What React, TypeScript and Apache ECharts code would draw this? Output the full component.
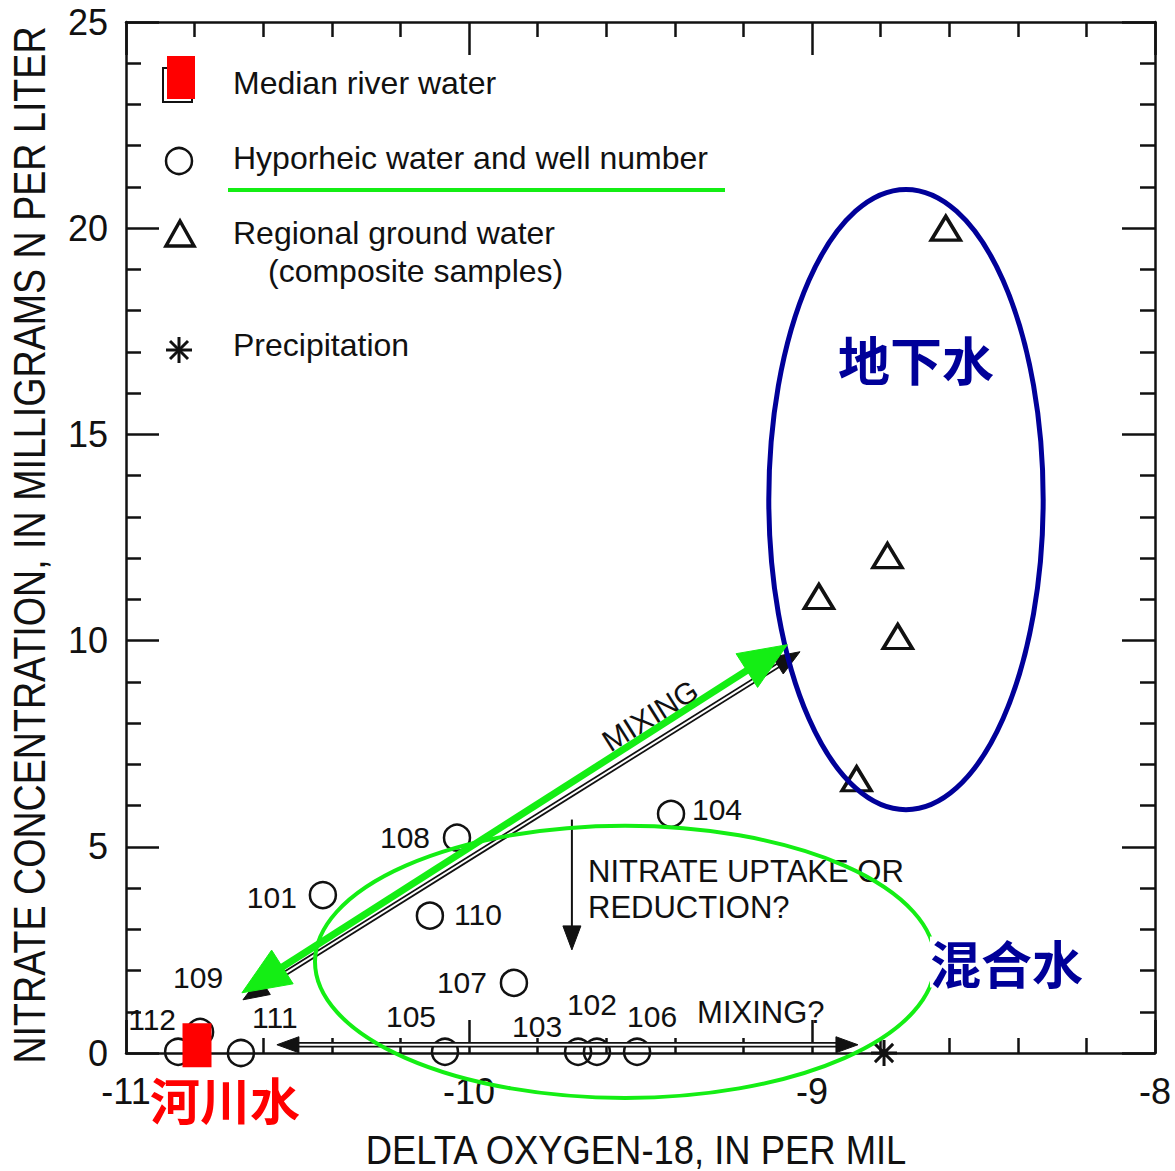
import React, { useEffect, useRef } from 'react';
import * as echarts from 'echarts';

// ---------- data ----------
const xAxisTicks = [-11, -10, -9, -8];
const yAxisTicks = [0, 5, 10, 15, 20, 25];

// Hyporheic water wells (open circles)
const wellIds = ['112', '109', '111', '101', '110', '108', '105', '107', '103', '102', '106', '104'];
const wellX = [-10.848, -10.784, -10.665, -10.426, -10.114, -10.035, -10.07, -9.869, -9.682, -9.627, -9.51, -9.411];
const wellY = [0.03, 0.51, 0.0, 3.83, 3.33, 5.22, 0.03, 1.7, 0.03, 0.03, 0.03, 5.8];

// Regional ground water (triangles)
const groundX = [-8.61, -8.78, -8.98, -8.75, -8.87];
const groundY = [20.0, 12.06, 11.07, 10.1, 6.65];

// Median river water (square)
const riverX = [-10.793];
const riverY = [0.19];

// Precipitation (asterisk)
const precipX = [-8.79];
const precipY = [0.0];

// Annotation geometry in data units
const mixingArrow = [[-10.659, 1.29], [-9.035, 9.73]];
const greenArrow = [[-10.662, 1.46], [-9.072, 9.9]];
const mixingQArrow = [[-10.56, 0.2], [-8.866, 0.2]];
const uptakeArrow = [[-9.7, 5.66], [-9.7, 2.5]];
const groundEllipse = { cx: -8.726, cy: 13.42, rx: 0.4, ry: 7.52 };
const mixEllipse = { cx: -9.545, cy: 2.21, rx: 0.904, ry: 3.3 };

// ---------- styles ----------
const FONT = '"Liberation Sans", Arial, Helvetica, sans-serif';
const CJK = '"Noto Sans CJK SC", "Noto Sans CJK JP", sans-serif';
const INK = '#111111';
const GREEN = '#14ee14';
const NAVY = '#000099';

// label offsets (pixels) for the well numbers, relative to the circle centre
const wellLabelOffsets: Record<string, number[]> = {
  '112': [-26, -32],
  '109': [-2, -54],
  '111': [34, -36],
  '101': [-51, 2],
  '110': [48, -1],
  '108': [-52, 0],
  '105': [-34, -35],
  '107': [-52, 0],
  '103': [-41, -25],
  '102': [-5, -47],
  '106': [15, -35],
  '104': [46, -4],
};

function headPolygon(tip: number[], from: number[], len: number, half: number, color: string) {
  const dx = tip[0] - from[0];
  const dy = tip[1] - from[1];
  const d = Math.hypot(dx, dy) || 1;
  const ux = dx / d;
  const uy = dy / d;
  const bx = tip[0] - ux * len;
  const by = tip[1] - uy * len;
  return {
    type: 'polygon',
    shape: {
      points: [
        [tip[0], tip[1]],
        [bx - uy * half, by + ux * half],
        [bx + uy * half, by - ux * half],
      ],
    },
    style: { fill: color, stroke: color, lineWidth: 1 },
  };
}

type ArrowOpts = {
  color: string;
  width: number;
  inner?: number;
  headLen: number;
  headHalf: number;
  startHead: boolean;
  endHead: boolean;
};

function makeArrowRender(a: number[], b: number[], o: ArrowOpts) {
  return (_params: any, api: any) => {
    const p = api.coord(a);
    const q = api.coord(b);
    const dx = q[0] - p[0];
    const dy = q[1] - p[1];
    const d = Math.hypot(dx, dy) || 1;
    const ux = dx / d;
    const uy = dy / d;
    const s = o.startHead ? [p[0] + ux * o.headLen * 0.7, p[1] + uy * o.headLen * 0.7] : p;
    const e = o.endHead ? [q[0] - ux * o.headLen * 0.7, q[1] - uy * o.headLen * 0.7] : q;
    const children: any[] = [
      {
        type: 'line',
        shape: { x1: s[0], y1: s[1], x2: e[0], y2: e[1] },
        style: { stroke: o.color, lineWidth: o.width, lineCap: 'butt' },
      },
    ];
    if (o.inner) {
      children.push({
        type: 'line',
        shape: { x1: s[0], y1: s[1], x2: e[0], y2: e[1] },
        style: { stroke: '#ffffff', lineWidth: o.inner, lineCap: 'butt' },
      });
    }
    if (o.startHead) children.push(headPolygon(p, q, o.headLen, o.headHalf, o.color));
    if (o.endHead) children.push(headPolygon(q, p, o.headLen, o.headHalf, o.color));
    return { type: 'group', children };
  };
}

function makeEllipseRender(e: { cx: number; cy: number; rx: number; ry: number }, color: string, width: number) {
  return (_params: any, api: any) => {
    const c = api.coord([e.cx, e.cy]);
    const rx = Math.abs(api.size([e.rx, 0])[0]);
    const ry = Math.abs(api.size([0, e.ry])[1]);
    const d =
      `M${c[0] - rx},${c[1]}` +
      `A${rx},${ry},0,1,0,${c[0] + rx},${c[1]}` +
      `A${rx},${ry},0,1,0,${c[0] - rx},${c[1]}Z`;
    return {
      type: 'path',
      shape: { pathData: d },
      style: { fill: 'none', stroke: color, lineWidth: width },
    };
  };
}

type TextNote = { text: string; x: number; y: number; align: string; rotate: number; size: number };
const textNotes: TextNote[] = [
  { text: 'MIXING', x: -9.472, y: 8.18, align: 'center', rotate: 0.56, size: 30 },
  { text: 'NITRATE UPTAKE OR', x: -9.653, y: 4.39, align: 'left', rotate: 0, size: 31 },
  { text: 'REDUCTION?', x: -9.653, y: 3.54, align: 'left', rotate: 0, size: 31 },
  { text: 'MIXING?', x: -9.335, y: 0.97, align: 'left', rotate: 0, size: 31 },
];

function customSeries(anchor: number[], renderItem: any, z: number) {
  return {
    type: 'custom',
    coordinateSystem: 'cartesian2d',
    xAxisIndex: 0,
    yAxisIndex: 0,
    data: [anchor],
    renderItem,
    clip: false,
    silent: true,
    z,
  };
}

function axisCommon(extra: any) {
  return {
    type: 'value',
    axisLine: { show: true, onZero: false, lineStyle: { color: INK, width: 2.5 } },
    axisTick: { show: true, inside: true, length: 33, lineStyle: { color: INK, width: 2.5 } },
    minorTick: { show: true, splitNumber: 5, length: 15, lineStyle: { color: INK, width: 2.5 } },
    splitLine: { show: false },
    minorSplitLine: { show: false },
    ...extra,
  };
}

export default function App() {
  const ref = useRef<HTMLDivElement>(null);

  useEffect(() => {
    if (!ref.current) return;
    const chart = echarts.init(ref.current, null, { renderer: 'svg' });

    const wellData = wellIds.map((id, i) => ({
      name: id,
      value: [wellX[i], wellY[i]],
      label: { offset: wellLabelOffsets[id] },
    }));

    const graphic: any[] = [
      // axis titles
      {
        type: 'text',
        x: 30,
        y: 545,
        rotation: Math.PI / 2,
        scaleX: 0.855,
        style: {
          text: 'NITRATE CONCENTRATION, IN MILLIGRAMS N PER LITER',
          font: `44px ${FONT}`,
          fill: INK,
          align: 'center',
          verticalAlign: 'middle',
        },
      },
      {
        type: 'text',
        x: 636,
        y: 1150,
        scaleX: 0.91,
        style: {
          text: 'DELTA OXYGEN-18, IN PER MIL',
          font: `40px ${FONT}`,
          fill: INK,
          align: 'center',
          verticalAlign: 'middle',
        },
      },
      // legend icons
      { type: 'rect', shape: { x: 163, y: 68, width: 29, height: 34 }, style: { fill: 'none', stroke: INK, lineWidth: 2 } },
      { type: 'rect', shape: { x: 167, y: 56, width: 28, height: 43 }, style: { fill: '#ff0000' }, z: 5 },
      { type: 'circle', shape: { cx: 179, cy: 161, r: 13 }, style: { fill: 'none', stroke: INK, lineWidth: 2.5 } },
      {
        type: 'polygon',
        shape: { points: [[180, 221], [166, 246], [194, 246]] },
        style: { fill: '#fff', stroke: INK, lineWidth: 3.5 },
      },
      { type: 'line', shape: { x1: 179, y1: 337, x2: 179, y2: 363 }, style: { stroke: INK, lineWidth: 3 } },
      { type: 'line', shape: { x1: 166, y1: 350, x2: 192, y2: 350 }, style: { stroke: INK, lineWidth: 3 } },
      { type: 'line', shape: { x1: 170, y1: 341, x2: 188, y2: 359 }, style: { stroke: INK, lineWidth: 3 } },
      { type: 'line', shape: { x1: 170, y1: 359, x2: 188, y2: 341 }, style: { stroke: INK, lineWidth: 3 } },
      // legend texts
      { type: 'text', x: 233, y: 83, style: { text: 'Median river water', font: `32px ${FONT}`, fill: INK, verticalAlign: 'middle' } },
      { type: 'text', x: 233, y: 158, style: { text: 'Hyporheic water and well number', font: `32px ${FONT}`, fill: INK, verticalAlign: 'middle' } },
      { type: 'text', x: 233, y: 233, style: { text: 'Regional ground water', font: `32px ${FONT}`, fill: INK, verticalAlign: 'middle' } },
      { type: 'text', x: 268, y: 271, style: { text: '(composite samples)', font: `32px ${FONT}`, fill: INK, verticalAlign: 'middle' } },
      { type: 'text', x: 233, y: 345, style: { text: 'Precipitation', font: `32px ${FONT}`, fill: INK, verticalAlign: 'middle' } },
      // green underline
      { type: 'line', shape: { x1: 228, y1: 190, x2: 725, y2: 190 }, style: { stroke: GREEN, lineWidth: 4 } },
      // Chinese annotations
      {
        type: 'text',
        x: 838,
        y: 358,
        z: 100,
        style: { text: '地下水', font: `bold 52px ${CJK}`, fill: NAVY, verticalAlign: 'middle' },
      },
      {
        type: 'text',
        x: 930,
        y: 962,
        z: 100,
        style: { text: '混合水', font: `bold 51px ${CJK}`, fill: NAVY, verticalAlign: 'middle', backgroundColor: '#fff' },
      },
      {
        type: 'text',
        x: 150,
        y: 1098,
        z: 100,
        style: { text: '河川水', font: `bold 50px ${CJK}`, fill: '#ff0000', verticalAlign: 'middle', backgroundColor: '#fff' },
      },
    ];

    const option: any = {
      animation: false,
      backgroundColor: '#ffffff',
      grid: { left: 126, right: 20, top: 22, bottom: 118, containLabel: false },
      xAxis: [
        axisCommon({
          position: 'bottom',
          min: xAxisTicks[0],
          max: xAxisTicks[xAxisTicks.length - 1],
          interval: 1,
          axisLabel: {
            color: INK,
            fontSize: 36,
            fontFamily: FONT,
            margin: 20,
            showMinLabel: true,
            showMaxLabel: true,
          },
        }),
        axisCommon({
          position: 'top',
          min: xAxisTicks[0],
          max: xAxisTicks[xAxisTicks.length - 1],
          interval: 1,
          axisLabel: { show: false },
        }),
      ],
      yAxis: [
        axisCommon({
          position: 'left',
          min: yAxisTicks[0],
          max: yAxisTicks[yAxisTicks.length - 1],
          interval: 5,
          axisLabel: {
            color: INK,
            fontSize: 36,
            fontFamily: FONT,
            margin: 18,
            showMinLabel: true,
            showMaxLabel: true,
          },
        }),
        axisCommon({
          position: 'right',
          min: yAxisTicks[0],
          max: yAxisTicks[yAxisTicks.length - 1],
          interval: 5,
          axisLabel: { show: false },
        }),
      ],
      graphic,
      series: [
        {
          name: 'Hyporheic water and well number',
          type: 'scatter',
          data: wellData,
          symbol: 'circle',
          symbolSize: 26,
          itemStyle: { color: 'rgba(0,0,0,0)', borderColor: INK, borderWidth: 2.5, opacity: 1 },
          label: {
            show: true,
            position: 'inside',
            formatter: (p: any) => p.name,
            color: INK,
            fontSize: 30,
            fontFamily: FONT,
            align: 'center',
            verticalAlign: 'middle',
          },
          z: 2,
        },
        {
          name: 'Regional ground water',
          type: 'scatter',
          data: groundX.map((x, i) => [x, groundY[i]]),
          symbol: 'triangle',
          symbolSize: [29, 24],
          itemStyle: { color: '#ffffff', borderColor: INK, borderWidth: 3.5, opacity: 1 },
          z: 2,
        },
        {
          name: 'Precipitation',
          type: 'scatter',
          data: precipX.map((x, i) => [x, precipY[i]]),
          symbol: 'path://M10,0L10,20M0,10L20,10M3,3L17,17M3,17L17,3',
          symbolSize: 26,
          itemStyle: { color: 'none', borderColor: INK, borderWidth: 3, opacity: 1 },
          z: 2,
        },
        customSeries(
          mixingArrow[0],
          makeArrowRender(mixingArrow[0], mixingArrow[1], {
            color: INK, width: 5.5, inner: 2, headLen: 26, headHalf: 10, startHead: true, endHead: true,
          }),
          3,
        ),
        customSeries(
          mixingQArrow[0],
          makeArrowRender(mixingQArrow[0], mixingQArrow[1], {
            color: INK, width: 5.5, inner: 2, headLen: 22, headHalf: 8, startHead: true, endHead: true,
          }),
          3,
        ),
        customSeries(
          uptakeArrow[0],
          makeArrowRender(uptakeArrow[0], uptakeArrow[1], {
            color: INK, width: 2, headLen: 24, headHalf: 9, startHead: false, endHead: true,
          }),
          3,
        ),
        customSeries(
          [textNotes[0].x, textNotes[0].y],
          (_p: any, api: any) => ({
            type: 'group',
            children: textNotes.map((t) => {
              const c = api.coord([t.x, t.y]);
              return {
                type: 'text',
                x: c[0],
                y: c[1],
                rotation: t.rotate,
                style: {
                  text: t.text,
                  font: `${t.size}px ${FONT}`,
                  fill: INK,
                  align: t.align,
                  verticalAlign: 'middle',
                },
              };
            }),
          }),
          3,
        ),
        customSeries(
          [groundEllipse.cx, groundEllipse.cy],
          makeEllipseRender(groundEllipse, NAVY, 5),
          4,
        ),
        customSeries(
          [mixEllipse.cx, mixEllipse.cy],
          makeEllipseRender(mixEllipse, GREEN, 4),
          4,
        ),
        customSeries(
          greenArrow[0],
          makeArrowRender(greenArrow[0], greenArrow[1], {
            color: GREEN, width: 7, headLen: 48, headHalf: 20, startHead: true, endHead: true,
          }),
          4,
        ),
        {
          name: 'Median river water',
          type: 'scatter',
          data: riverX.map((x, i) => [x, riverY[i]]),
          symbol: 'rect',
          symbolSize: [29, 44],
          itemStyle: { color: '#ff0000', opacity: 1 },
          z: 5,
        },
      ],
    };

    chart.setOption(option);
    return () => chart.dispose();
  }, []);

  return (
    <div
      ref={ref}
      style={{ position: 'absolute', left: 0, top: 0, width: 1175, height: 1171, background: '#fff' }}
    />
  );
}
